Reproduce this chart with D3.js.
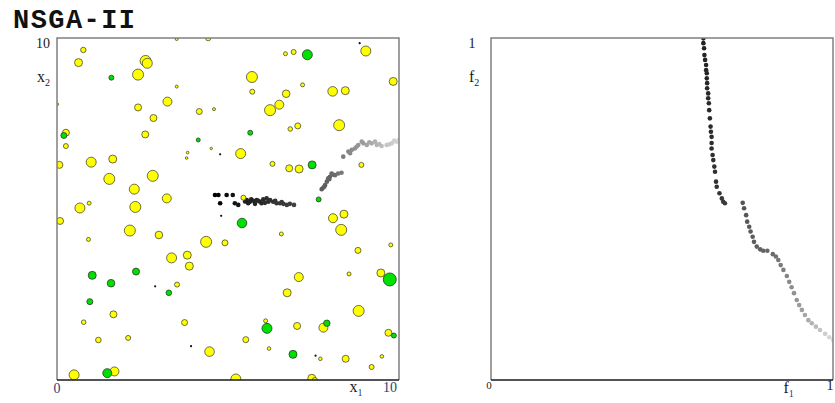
<!DOCTYPE html>
<html>
<head>
<meta charset="utf-8">
<script src="https://cdn.jsdelivr.net/npm/d3@7"></script>
<style>
  body { margin: 0; background: #fff; }
  svg { display: block; }
  text { font-family: "Liberation Serif", "DejaVu Serif", serif; }
</style>
</head>
<body>
<script>
// decision space: yellow circles (x1, x2, size)
const yellowX1 = [0.77,0.63,2.59,2.64,2.37,3.50,0.01,2.37,3.23,2.82,4.16,4.59,2.58,0.26,0.26,3.82,3.79,4.51,0.07,1.00,
  1.63,1.53,2.80,2.26,3.21,0.94,0.67,2.29,3.50,4.42,9.03,6.68,6.92,5.70,5.71,7.18,6.70,8.06,8.43,9.83,
  6.23,6.50,8.25,6.82,7.04,5.37,6.30,6.79,7.08,8.90,5.45,0.09,2.13,2.98,0.92,4.36,4.91,3.35,3.81,3.87,
  3.51,1.65,0.78,3.73,1.21,2.08,4.46,0.50,1.68,6.56,8.07,8.39,8.31,8.80,9.76,7.07,8.54,9.47,6.73,8.82,
  6.10,7.02,7.79,9.69,5.52,6.20,7.70,8.44,9.50,9.20,5.23,7.45,7.54];
const yellowX2 = [9.65,9.28,9.33,9.26,8.93,8.58,8.06,7.97,8.14,7.66,7.85,7.92,7.18,7.23,6.84,6.65,6.49,6.77,6.29,6.37,
  6.46,5.88,5.97,5.58,5.31,5.17,5.03,5.06,9.97,9.99,9.62,9.54,9.59,8.86,8.43,8.63,8.37,8.44,8.46,8.73,
  7.89,8.05,7.45,7.34,7.43,6.62,6.32,6.19,6.17,6.29,5.33,4.65,4.37,4.24,4.11,4.04,4.01,3.57,3.65,3.33,
  2.79,1.92,1.69,1.68,1.17,1.23,0.83,0.15,0.25,4.27,4.73,4.85,4.39,3.79,3.95,3.01,3.10,3.13,2.55,2.02,
  1.73,1.58,1.53,1.38,1.18,0.92,0.62,0.62,0.69,0.38,0.03,0.05,0.00];
const yellowSize = [2.7,4,5.5,5,5.5,1.5,1.3,3.5,4.5,3.5,3,1.5,3.5,3.5,2.5,1.3,1.3,1.2,3.5,5,
  4,5.5,5.5,5,4.5,2,5,5.5,1.5,2.5,5,2,2.5,5.5,2.5,2,3.8,4.8,4,4,
  5.5,4.5,5.5,2.3,3,5,2.5,3.5,4,2.5,2.5,3.5,5.5,3.8,2,5.5,3,5,4,4,
  2.5,3.5,2.3,3,2.8,2.5,4.8,5,4.5,2,4.5,4,5.5,3,2,4.5,2,4,4,5.5,
  2,3.5,4.5,3.5,3,1.8,1.8,3.5,1.8,2.5,5,4,2.5];

// decision space: green circles
const greenX1 = [1.59,0.20,4.13,7.32,5.65,7.46,7.65,1.03,2.31,1.58,3.27,0.96,1.47,5.41,9.73,6.14,7.89,9.85,6.90];
const greenX2 = [8.84,7.15,7.02,9.51,7.23,6.29,5.28,3.06,3.17,2.83,2.55,2.29,0.20,4.59,2.94,1.51,1.66,1.30,0.75];
const greenSize = [2.5,3,2,5,2.5,4,2.5,4,3.5,3.8,2.8,3,4.5,4.8,6.5,5,3.2,2.5,4];

// decision space: tiny black points
const dotX1 = [4.77,8.85,4.80,2.87,3.92,7.56];
const dotX2 = [6.60,9.85,4.80,2.74,0.99,0.71];

// decision space: non-dominated set
const frontX1 = [4.62,4.72,4.96,5.14,4.77,5.20,5.30,5.55,5.64,5.74,5.84,5.94,6.03,6.13,6.23,6.32,6.42,6.52,6.62,6.72,
  6.81,6.93,5.59,5.79,5.98,6.18,7.74,7.79,7.84,7.89,7.96,7.98,8.03,8.13,8.22,8.32,8.37,8.52,8.62,8.71,
  8.81,8.96,9.06,9.20,9.35,9.49,9.64,9.79,9.93,10.0,8.91,9.30,
  5.50,5.68,5.88,6.08,6.38,6.57,7.82,7.93,8.08,8.57,8.76,9.13,9.42,9.71,9.86];
const frontX2 = [5.41,5.41,5.41,5.41,5.17,5.17,5.12,5.26,5.21,5.24,5.26,5.21,5.28,5.31,5.26,5.21,5.17,5.17,5.15,5.12,
  5.15,5.12,5.17,5.15,5.17,5.21,5.58,5.63,5.70,5.80,5.87,5.94,6.04,5.99,6.04,6.06,6.53,6.68,6.73,6.77,
  6.87,6.92,6.87,6.92,6.87,6.84,6.87,6.92,6.97,7.02,6.97,6.97,
  5.22,5.28,5.24,5.18,5.24,5.20,5.66,5.90,6.00,6.63,6.82,6.95,6.90,6.89,7.00];

// objective space: Pareto front
const paretoF1 = [0.621,0.621,0.623,0.624,0.626,0.629,0.629,0.631,0.631,0.632,0.632,0.635,0.635,0.637,0.638,0.640,0.642,0.643,0.645,0.645,
  0.645,0.648,0.650,0.653,0.655,0.658,0.660,0.668,0.675,0.679,0.684,0.736,0.740,0.746,0.749,0.755,0.759,0.765,0.769,0.777,
  0.787,0.796,0.808,0.824,0.833,0.840,0.847,0.855,0.865,0.872,0.879,0.886,0.894,0.901,0.909,0.918,0.928,0.938,0.950,0.962,
  0.977,0.989,1.0];
const paretoF2 = [0.999,0.985,0.970,0.950,0.936,0.921,0.906,0.897,0.882,0.868,0.853,0.838,0.824,0.809,0.789,0.765,0.741,0.726,0.711,0.693,
  0.677,0.658,0.643,0.624,0.609,0.580,0.565,0.546,0.531,0.521,0.517,0.518,0.502,0.482,0.463,0.448,0.434,0.419,0.404,0.390,
  0.382,0.378,0.378,0.368,0.361,0.351,0.336,0.322,0.304,0.287,0.271,0.254,0.234,0.219,0.205,0.190,0.175,0.166,0.156,0.146,
  0.135,0.125,0.117];

const W = 835, H = 403;
const svg = d3.select("body").append("svg").attr("width", W).attr("height", H);

// title
svg.append("text")
  .attr("x", 13).attr("y", 28)
  .style("font-family", "'Liberation Mono', 'DejaVu Sans Mono', monospace")
  .style("font-weight", "bold")
  .attr("font-size", 27)
  .attr("textLength", 122).attr("lengthAdjust", "spacing")
  .attr("fill", "#111")
  .text("NSGA-II");

const x1 = d3.scaleLinear().domain([0, 10]).range([57, 399]);
const x2 = d3.scaleLinear().domain([0, 10]).range([380, 38]);
const f1 = d3.scaleLinear().domain([0, 1]).range([491, 833]);
const f2 = d3.scaleLinear().domain([0, 1]).range([380, 38]);
const rScale = d3.scaleLinear().domain([0, 7]).range([0, 7]);

const frontShade = d3.scaleLinear().domain([4.6, 5.4, 7.0, 8.0, 8.6, 10])
  .range(["#000", "#1a1a1a", "#444", "#666", "#8a8a8a", "#d8d8d8"]);
const paretoShade = d3.scaleLinear().domain([0.62, 0.68, 0.74, 0.82, 0.9, 1.0])
  .range(["#222", "#3a3a3a", "#555", "#6a6a6a", "#999", "#dcdcdc"]);

function frame(xs, ys) {
  const [xa, xb] = xs.range(), [yb, ya] = ys.range();
  const g = svg.append("g").attr("fill", "none");
  g.append("path").attr("d", `M${xa},${yb}V${ya}H${xb}V${yb}`)
    .attr("stroke", "#808080").attr("stroke-width", 1.5);
  g.append("path").attr("d", `M${xa},${yb}H${xb}`)
    .attr("stroke", "#1a1a1a").attr("stroke-width", 1.5);
}

function clip(id, xs, ys) {
  const [xa, xb] = xs.range(), [yb, ya] = ys.range();
  svg.append("clipPath").attr("id", id).append("rect")
    .attr("x", xa).attr("y", ya).attr("width", xb - xa).attr("height", yb - ya);
}

// ---------------- left: decision space
clip("clipL", x1, x2);
const left = svg.append("g").attr("clip-path", "url(#clipL)");

left.selectAll("circle.front")
  .data(d3.range(frontX1.length)).enter().append("circle")
  .attr("class", "front")
  .attr("cx", i => x1(frontX1[i])).attr("cy", i => x2(frontX2[i]))
  .attr("r", 2.3).attr("fill", i => frontShade(frontX1[i]));

left.selectAll("circle.dot")
  .data(d3.range(dotX1.length)).enter().append("circle")
  .attr("class", "dot")
  .attr("cx", i => x1(dotX1[i])).attr("cy", i => x2(dotX2[i]))
  .attr("r", 1.1).attr("fill", "#111");

left.selectAll("circle.yellow")
  .data(d3.range(yellowX1.length)).enter().append("circle")
  .attr("class", "yellow")
  .attr("cx", i => x1(yellowX1[i])).attr("cy", i => x2(yellowX2[i]))
  .attr("r", i => rScale(yellowSize[i]))
  .attr("fill", "#ffff00").attr("stroke", "#4a4a30").attr("stroke-width", 0.8);

left.selectAll("circle.green")
  .data(d3.range(greenX1.length)).enter().append("circle")
  .attr("class", "green")
  .attr("cx", i => x1(greenX1[i])).attr("cy", i => x2(greenX2[i]))
  .attr("r", i => rScale(greenSize[i]))
  .attr("fill", "#00e000").attr("stroke", "#2a3a2a").attr("stroke-width", 0.8);

frame(x1, x2);

// ---------------- right: objective space
clip("clipR", f1, f2);
const right = svg.append("g").attr("clip-path", "url(#clipR)");
right.selectAll("circle")
  .data(d3.range(paretoF1.length)).enter().append("circle")
  .attr("cx", i => f1(paretoF1[i])).attr("cy", i => f2(paretoF2[i]))
  .attr("r", 2.3).attr("fill", i => paretoShade(paretoF1[i]));

frame(f1, f2);

// ---------------- labels
function label(x, y, txt, sub, opts = {}) {
  const t = svg.append("text").attr("x", x).attr("y", y)
    .attr("font-size", opts.size || 14)
    .attr("text-anchor", opts.anchor || "start")
    .attr("fill", opts.color || "#1a1a1a")
    .text(txt);
  if (sub) {
    t.attr("font-size", 16);
    t.append("tspan").attr("dy", 4).attr("font-size", 10)
      .attr("fill", opts.subColor || "#1a1a1a").text(sub);
  }
  return t;
}

const navy = "#2a3f78";
label(x1(0) - 7, x2(10) + 10, "10", null, { anchor: "end" });
label(37, x2(8.7), "x", "2");
label(x1(0), 393, "0", null, { anchor: "middle", color: navy });
label(x1(8.55), 392, "x", "1", { subColor: navy });
label(x1(10) - 2, 392, "10", null, { anchor: "end", color: navy });

label(f1(0) - 19, f2(1) + 10, "1", null, { anchor: "middle" });
label(469, f2(0.87), "f", "2");
label(f1(0) - 2, 389, "0", null, { anchor: "middle", size: 11 });
label(f1(0.855), 393, "f", "1", { subColor: navy });
label(f1(1) - 3, 390, "1", null, { anchor: "middle" });
</script>
</body>
</html>
